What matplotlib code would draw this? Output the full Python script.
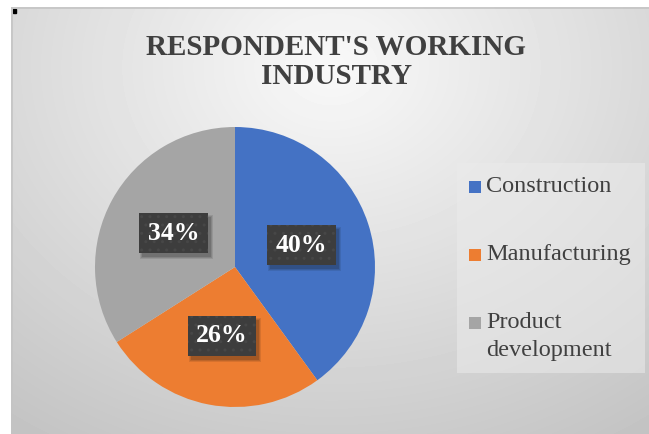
import numpy as np
import matplotlib
matplotlib.use("Agg")
import matplotlib.pyplot as plt
from matplotlib.patches import Rectangle
from matplotlib.transforms import IdentityTransform

plt.rcParams['font.family'] = ['Liberation Serif', 'DejaVu Serif']
plt.rcParams['hatch.linewidth'] = 1.0

# data
categories = ['Construction', 'Manufacturing', 'Product\ndevelopment']
shares = [40, 26, 34]
colors = ['#4472C4', '#ED7D31', '#A5A5A5']
title = "RESPONDENT'S WORKING\nINDUSTRY"

W, H = 649, 434
fig = plt.figure(figsize=(W / 100, H / 100), dpi=100)
fig.patch.set_facecolor('white')

# chart area with radial gray gradient
bg = fig.add_axes([11 / W, 0, (W - 11) / W, (H - 7) / H])
yy, xx = np.mgrid[0:427, 0:638]
r = np.sqrt(((xx - 320) / 520.0) ** 2 + ((yy - 60) / 420.0) ** 2)
shade = np.clip(0.975 - 0.20 * r, 0.76, 1.0)
bg.imshow(shade, cmap='gray', vmin=0, vmax=1, aspect='auto',
          extent=(0, 638, 427, 0), interpolation='bilinear')
bg.plot([0, 638], [0.5, 0.5], color='#c4c4c4', lw=1.2)
bg.plot([0.5, 0.5], [0, 427], color='#c4c4c4', lw=1.2)
bg.add_patch(Rectangle((1.5, 2), 3, 4, color='black'))
bg.set_xlim(0, 638)
bg.set_ylim(427, 0)
bg.axis('off')

fig.text(336 / W, 1 - 62 / H, title, ha='center', va='center',
         fontsize=21, fontweight='bold', color='#404040', linespacing=1.05)

# legend panel
bg.add_patch(Rectangle((446, 156), 188, 210, facecolor='#ebebeb',
                       edgecolor='none', alpha=0.55))
legend_y = [187, 255, 323]
for cat, col, ly in zip(categories, colors, legend_y):
    fig.patches.append(Rectangle((469 / W, 1 - (ly + 6) / H), 12 / W, 12 / H,
                                 transform=fig.transFigure, facecolor=col,
                                 edgecolor='none'))
    fig.text(486 / W, 1 - (ly - 11) / H, cat, ha='left', va='top',
             fontsize=17.5, color='#404040', linespacing=1.42)

# pie
cx, cy, rad = 235, 267, 140
ax = fig.add_axes([(cx - rad) / W, (H - cy - rad) / H, 2 * rad / W, 2 * rad / H])
wedges, _, autotexts = ax.pie(shares, colors=colors, startangle=90,
                              counterclock=False, pctdistance=0.5,
                              autopct='%1.0f%%',
                              wedgeprops=dict(linewidth=0))
ax.set_xlim(-1, 1)
ax.set_ylim(-1, 1)
ax.set_aspect('equal')

for t in autotexts:
    t.set_fontsize(18.5)
    t.set_fontweight('bold')
    t.set_color('white')
    t.set_zorder(10)
    t.set_bbox(dict(boxstyle='square,pad=0.33', facecolor='#3d3d3d',
                    edgecolor='#474747', hatch='..', linewidth=0))

# soft drop shadow under each label box
fig.canvas.draw()
for t in autotexts:
    bb = t.get_bbox_patch().get_window_extent()
    for k, a in enumerate([0.10, 0.12, 0.16]):
        g = 2 - k
        ax.add_patch(Rectangle((bb.x0 + 3 - g, bb.y0 - 4 - g),
                               bb.width + 2 * g, bb.height + 2 * g,
                               transform=IdentityTransform(), clip_on=False,
                               facecolor='#101010', edgecolor='none',
                               alpha=a, zorder=4))

fig.savefig('out.png', dpi=100)
